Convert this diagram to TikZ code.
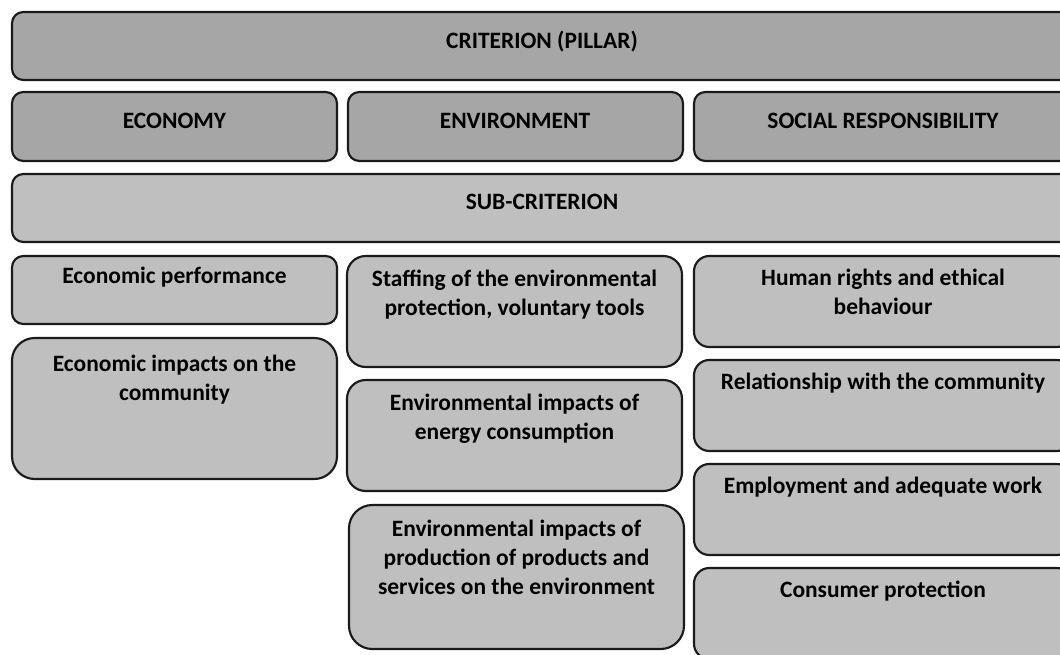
\documentclass[tikz,border=0pt]{standalone}
\usepackage{fontspec}
\setmainfont{Carlito}
\definecolor{pillarfill}{HTML}{A6A6A6}
\definecolor{subfill}{HTML}{BFBFBF}
\definecolor{edge}{HTML}{1A1A1A}
\begin{document}
\begin{tikzpicture}[x=0.75pt,y=-0.75pt,
  boxstyle/.style={draw=edge,line width=1.6pt},
  pillar/.style={boxstyle,fill=pillarfill},
  subbox/.style={boxstyle,fill=subfill},
  % the base anchor of a multi-line label sits on its last line
  lbl/.style={anchor=base,inner sep=0pt,align=center,
    font=\fontsize{17.6}{21.75}\selectfont\bfseries,text=black}]
\useasboundingbox (0,0) rectangle (1060,654);
\clip (0,0) rectangle (1060,654);

% criterion row
\draw[pillar,rounded corners=8.5pt] (12,12) rectangle (1072,80);
\node[lbl] (crit) at (542,48) {CRITERION (PILLAR)};

% pillars
\draw[pillar,rounded corners=8.5pt] (12,92) rectangle (337,161);
\draw[pillar,rounded corners=8.5pt] (348,92) rectangle (683,161);
\draw[pillar,rounded corners=8.5pt] (694,92) rectangle (1072,161);
\node[lbl] (econ) at (174.5,128) {ECONOMY};
\node[lbl] (env) at (515,128) {ENVIRONMENT};
\node[lbl] (soc) at (883,128) {SOCIAL RESPONSIBILITY};

% sub-criterion row
\draw[subbox,rounded corners=8.5pt] (12,174) rectangle (1072,242);
\node[lbl] (subcrit) at (542,209) {SUB-CRITERION};

% economy column
\draw[subbox,rounded corners=8.5pt] (12,256) rectangle (337,324);
\draw[subbox,rounded corners=17pt] (12,338) rectangle (337,479);
\node[lbl] (ecoperf) at (174.5,283) {Economic performance};
\node[lbl] (ecoimp) at (174.5,400) {Economic impacts on the\\community};

% environment column
\draw[subbox,rounded corners=14pt] (347,256) rectangle (682,367);
\draw[subbox,rounded corners=14pt] (347,380) rectangle (682,491);
\draw[subbox,rounded corners=17.5pt] (349,505) rectangle (684,649);
\node[lbl] (staff) at (514.5,315) {Staffing of the environmental\\protection, voluntary tools};
\node[lbl] (energy) at (514.5,439) {Environmental impacts of\\energy consumption};
\node[lbl] (prod) at (516.5,594) {Environmental impacts of\\production of products and\\services on the environment};

% social responsibility column
\draw[subbox,rounded corners=11.5pt] (694,256) rectangle (1072,347);
\draw[subbox,rounded corners=11.5pt] (694,360) rectangle (1072,451);
\draw[subbox,rounded corners=11.5pt] (694,464) rectangle (1072,555);
\draw[subbox,rounded corners=11.5pt] (694,568) rectangle (1072,659);
\node[lbl] (rights) at (883,314) {Human rights and ethical\\behaviour};
\node[lbl] (commun) at (883,389) {Relationship with the community};
\node[lbl] (employ) at (883,493) {Employment and adequate work};
\node[lbl] (consum) at (883,597) {Consumer protection};
\end{tikzpicture}
\end{document}
